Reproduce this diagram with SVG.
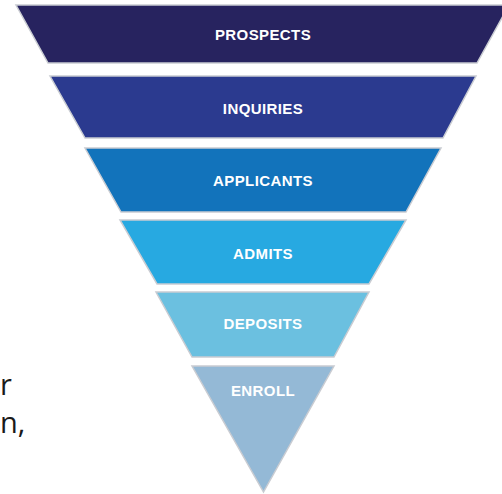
<svg xmlns="http://www.w3.org/2000/svg" width="502" height="494" viewBox="0 0 502 494">
<defs>
<style>
.band{stroke:#c9ccd2;stroke-width:1.5;stroke-linejoin:miter}
.lbl{font-family:"Liberation Sans",Arial,sans-serif;font-weight:bold;font-size:15px;fill:#ffffff;text-anchor:middle;letter-spacing:0.4px}
.side{font-family:"Open Sans","Liberation Sans",sans-serif;font-size:29px;fill:#1a1a1a}
</style>
</defs>
<rect width="502" height="494" fill="#ffffff"/>
<g id="side-text">
<text class="side" x="0" y="395">r</text>
<text class="side" x="0" y="433">n,</text>
</g>
<g id="prospects">
<polygon class="band" points="16,5 509,5 477,63 48,63" fill="#27235f"/>
<text class="lbl" x="263" y="40">PROSPECTS</text>
</g>
<g id="inquiries">
<polygon class="band" points="50,76 476,76 443,138 85,138" fill="#2b3a8f"/>
<text class="lbl" x="263" y="114">INQUIRIES</text>
</g>
<g id="applicants">
<polygon class="band" points="85,148 441,148 406,212 121,212" fill="#1273bb"/>
<text class="lbl" x="263" y="186">APPLICANTS</text>
</g>
<g id="admits">
<polygon class="band" points="120,220 406,220 369,284 157,284" fill="#27a9e1"/>
<text class="lbl" x="263" y="259">ADMITS</text>
</g>
<g id="deposits">
<polygon class="band" points="156,292 369,292 334,357 192,357" fill="#6bc0e0"/>
<text class="lbl" x="263" y="329">DEPOSITS</text>
</g>
<g id="enroll">
<polygon class="band" points="192,366 334,366 263.5,492" fill="#94b9d6"/>
<text class="lbl" x="263" y="396">ENROLL</text>
</g>
<g id="connectors"></g>
</svg>
